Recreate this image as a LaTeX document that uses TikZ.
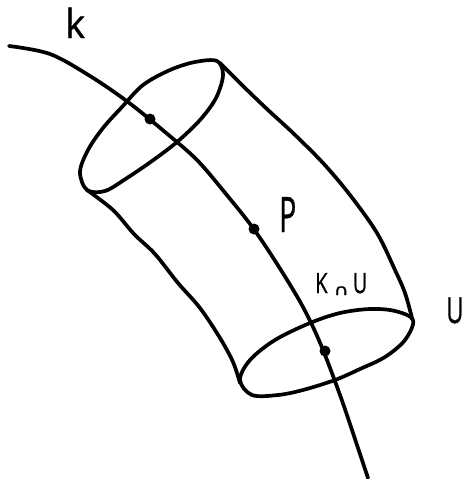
\documentclass[tikz,border=0pt]{standalone}
\usepackage{fontspec}
\setmainfont{Open Sans}[FakeBold=0.9]
\newfontfamily\symfont{DejaVu Sans}[FakeBold=0.9]
\tikzset{
  ink/.style={line width=3.7pt,line cap=round,line join=round,black},
  pointdot/.style={circle,fill=black,inner sep=0pt,minimum size=11pt},
  hand/.style={inner sep=0pt,text=black}
}
\begin{document}
\begin{tikzpicture}[x=1pt,y=-1pt]
\useasboundingbox (0,0) rectangle (466,479);
% curve k
\draw[ink] plot[smooth,tension=0.55] coordinates {(9,46) (50,54) (90,76) (128,102) (165,132) (197,160) (226,194) (253,228) (279,267) (303,307) (321,345) (340,395) (354,436) (368,478)};
% top ellipse
\draw[ink] plot[smooth cycle,tension=0.55] coordinates {(217,61) (195,62) (170,70) (143,85) (122,107) (103,128) (88,150) (80,172) (87,190) (105,191) (127,178) (152,161) (177,142) (200,120) (216,98) (223,75)};
% bottom ellipse
\draw[ink] plot[smooth cycle,tension=0.55] coordinates {(413,320) (395,311) (370,309) (340,313) (310,323) (275,340) (250,360) (240,380) (252,395) (278,395) (303,390) (335,380) (360,369) (385,357) (405,340)};
% sides
\draw[ink] plot[smooth,tension=0.55] coordinates {(220,63) (243,86) (268,110) (293,133) (323,163) (350,195) (377,233) (395,270) (405,293) (412,318)};
\draw[ink] plot[smooth,tension=0.55] coordinates {(87,190) (113,210) (134,234) (155,254) (178,283) (200,308) (220,338) (233,362) (240,383)};
% points
\node[pointdot] (a) at (150,119) {};
\node[pointdot] (b) at (254,229) {};
\node[pointdot] (c) at (325,351) {};
% labels
\node[hand,anchor=base west] (lk) at (65,38) {\fontsize{40}{40}\selectfont\scalebox{.95}[1]{k}};
\node[hand,anchor=base west] (lp) at (279,232) {\fontsize{49}{49}\selectfont\scalebox{.58}[1]{P}};
\node[hand,anchor=base west] (lku) at (315,293) {\fontsize{28}{28}\selectfont\scalebox{.72}[1]{K}\hspace{6pt}\raisebox{-2pt}{\symfont\fontsize{15}{15}\selectfont\scalebox{1.4}[1]{∩}}\hspace{4pt}\scalebox{.7}[1]{U}};
\node[hand,anchor=base west] (lu) at (446,323) {\fontsize{36}{36}\selectfont\scalebox{.66}[1]{U}};
\end{tikzpicture}
\end{document}
